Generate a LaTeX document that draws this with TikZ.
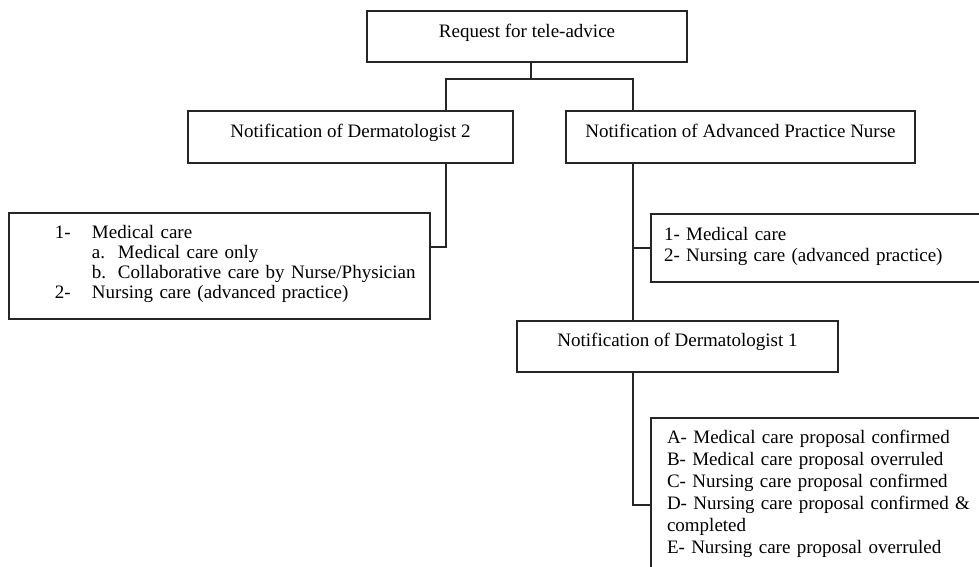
\documentclass[tikz,border=0pt]{standalone}
\usepackage{fontspec}
\setmainfont{Liberation Serif}
\usetikzlibrary{positioning, calc}

\begin{document}
\begin{tikzpicture}[x=1pt, y=-1pt,
  box/.style={draw=black!85, line width=1.7pt, inner sep=0pt, outer sep=0pt, anchor=north west, align=center, font=\fontsize{19}{21}\selectfont},
  listbox/.style={box, align=left},
  link/.style={draw=black!85, line width=1.7pt}
]
  \clip (0,0) rectangle (979,566);

  \node[box, minimum width=320pt, text height=26pt, text depth=25pt] (req) at (367,11) {Request for tele-advice};

  \node[box, minimum width=325pt, text height=26pt, text depth=26pt] (derm2) at (188,111) {Notification of Dermatologist 2};

  \node[box, minimum width=349pt, text height=26pt, text depth=26pt] (apn) at (566,111) {Notification of Advanced Practice Nurse};

  \node[listbox, text width=421pt, text height=25pt, text depth=81pt, font=\fontsize{19}{20}\selectfont] (carelist) at (9,213) {\hspace*{46pt}\makebox[37pt][l]{1-}Medical care\\
    \hspace*{83pt}\makebox[26pt][l]{a.}Medical care only\\
    \hspace*{83pt}\makebox[26pt][l]{b.}Collaborative care by Nurse/Physician\\
    \hspace*{46pt}\makebox[37pt][l]{2-}Nursing care (advanced practice)};

  \node[listbox, inner xsep=13pt, text width=314pt, text height=26pt, text depth=42pt] (apnlist) at (651,214) {1- Medical care\\
    2- Nursing care (advanced practice)};

  \node[box, minimum width=321pt, text height=25pt, text depth=26pt] (derm1) at (517,321) {Notification of Dermatologist 1};

  \node[listbox, inner xsep=16pt, text width=308pt, text height=25pt, text depth=160pt, font=\fontsize{19}{22}\selectfont] (outcome) at (651,418) {A- Medical care proposal confirmed\\
    B- Medical care proposal overruled\\
    C- Nursing care proposal confirmed\\
    D- Nursing care proposal confirmed \&\\
    completed\\
    E- Nursing care proposal overruled};

  % branch points
  \coordinate (split) at (531,79);
  \coordinate (d2in) at (446,111);
  \coordinate (apnin) at (633,111);
  \coordinate (d2out) at (446,247);
  \coordinate (d1out) at (633,505);

  \draw[link] (req.south -| split) -- (split);
  \draw[link] (d2in) -- (d2in |- split) -- (apnin |- split) -- (apnin);
  \draw[link] (d2in |- derm2.south) -- (d2out) -- (d2out -| carelist.east);
  \draw[link] (apnin |- apn.south) -- (apnin |- derm1.north);
  \draw[link] (apnin |- apnlist.west) -- (apnlist.west);
  \draw[link] (apnin |- derm1.south) -- (d1out) -- (d1out -| outcome.west);
\end{tikzpicture}
\end{document}
